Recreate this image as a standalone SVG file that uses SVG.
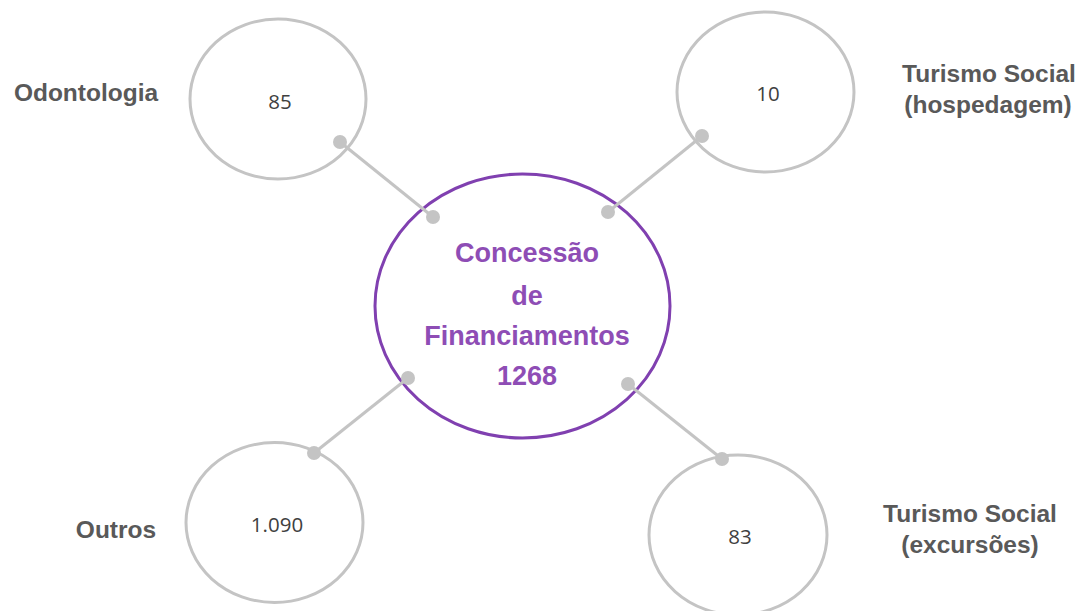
<svg xmlns="http://www.w3.org/2000/svg" width="1079" height="611" viewBox="0 0 1079 611">
<style>
.sat{fill:#fff;stroke:#c4c4c4;stroke-width:3}
.hub{fill:#fff;stroke:#8040b0;stroke-width:3}
.num{font-family:"Open Sans","Liberation Sans",sans-serif;font-size:20.5px;fill:#404040;text-anchor:middle}
.lbl{font-family:"Liberation Sans",Arial,sans-serif;font-weight:bold;font-size:24.5px;fill:#595959;text-anchor:middle}
.ctr{font-family:"Liberation Sans",Arial,sans-serif;font-weight:bold;font-size:27px;fill:#8e4db5;text-anchor:middle}
.con{stroke:#c4c4c4;stroke-width:3;fill:none}
.dot{fill:#c4c4c4}
</style>
<rect width="1079" height="611" fill="#fff"/>
<g id="hub">
<ellipse class="hub" cx="522.5" cy="306" rx="147.5" ry="132"/>
<text class="ctr" x="527" y="262">Concessão</text>
<text class="ctr" x="527" y="305">de</text>
<text class="ctr" x="527" y="345">Financiamentos</text>
<text class="ctr" x="527" y="385">1268</text>
</g>
<g id="odontologia">
<ellipse class="sat" cx="278" cy="99" rx="88" ry="80"/>
<text class="num" x="280" y="109">85</text>
<text class="lbl" x="86" y="101">Odontologia</text>
</g>
<g id="turismo-hospedagem">
<ellipse class="sat" cx="765.5" cy="92" rx="88.5" ry="80"/>
<text class="num" x="768" y="101">10</text>
<text class="lbl" x="989" y="82">Turismo Social</text>
<text class="lbl" x="988" y="113">(hospedagem)</text>
</g>
<g id="outros">
<ellipse class="sat" cx="274.5" cy="522.5" rx="88.5" ry="80"/>
<text class="num" x="277" y="532">1.090</text>
<text class="lbl" x="116" y="538">Outros</text>
</g>
<g id="turismo-excursoes">
<ellipse class="sat" cx="738" cy="535" rx="89" ry="80"/>
<text class="num" x="740" y="544">83</text>
<text class="lbl" x="970" y="522">Turismo Social</text>
<text class="lbl" x="970" y="553">(excursões)</text>
</g>
<g id="connectors">
<line class="con" x1="340" y1="142" x2="433" y2="217"/>
<circle class="dot" cx="340" cy="142" r="7"/>
<circle class="dot" cx="433" cy="217" r="7"/>
<line class="con" x1="702" y1="136" x2="608" y2="212"/>
<circle class="dot" cx="702" cy="136" r="7"/>
<circle class="dot" cx="608" cy="212" r="7"/>
<line class="con" x1="314" y1="453" x2="408" y2="378"/>
<circle class="dot" cx="314" cy="453" r="7"/>
<circle class="dot" cx="408" cy="378" r="7"/>
<line class="con" x1="722" y1="459" x2="628" y2="384"/>
<circle class="dot" cx="722" cy="459" r="7"/>
<circle class="dot" cx="628" cy="384" r="7"/>
</g>
</svg>
